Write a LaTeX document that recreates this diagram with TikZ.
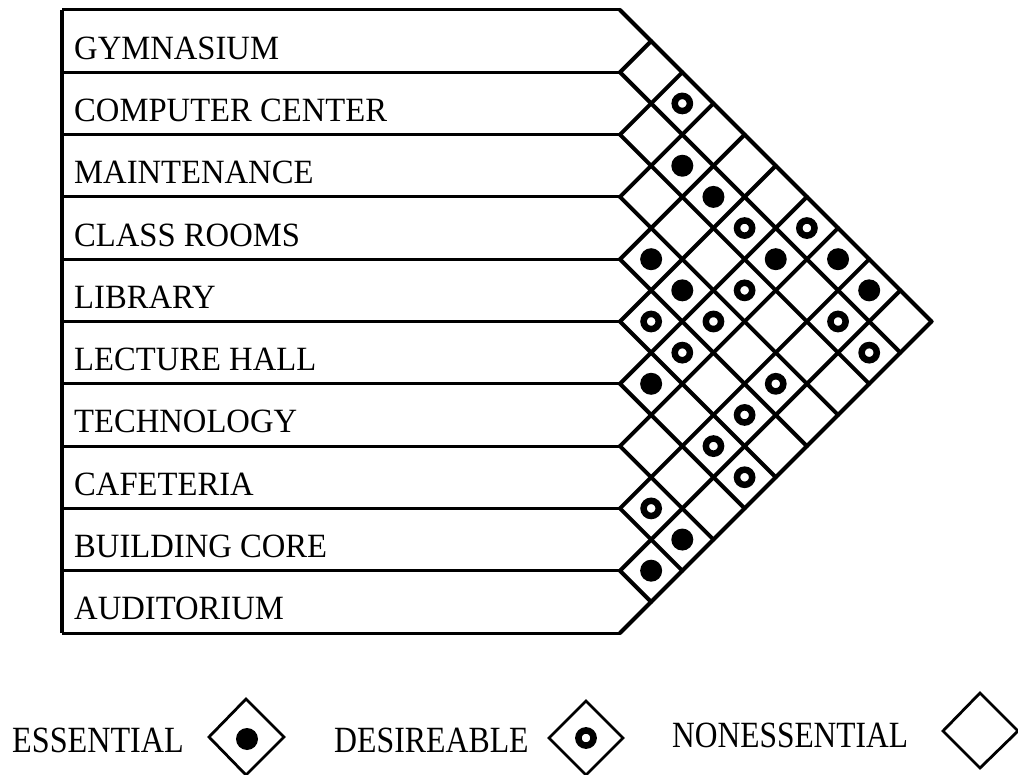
\documentclass[tikz,border=0pt]{standalone}
\usepackage{fontspec}
\setmainfont{Liberation Serif}
\usepackage{graphicx}
\begin{document}
\begin{tikzpicture}[x=1pt,y=-1pt,
  grid/.style={line width=4pt, line cap=round},
  rowline/.style={line width=3pt},
  lbl/.style={anchor=base west, inner sep=0pt, font=\fontsize{34}{40}\selectfont},
  leg/.style={anchor=base west, inner sep=0pt, font=\fontsize{37}{42}\selectfont},
  legdia/.style={line width=2.8pt, line join=miter},
  essmark/.style={fill=black},
  desmark/.style={draw=black, line width=6.5pt}]
\useasboundingbox (0,0) rectangle (1018,775);
\def\Xo{620}
\def\H{62.3}
\def\T{10}
% row boundaries and left edge
\foreach \k in {0,...,10} \draw[rowline] (62,{\T+\k*\H}) -- (\Xo,{\T+\k*\H});
\draw[rowline, line width=3.3pt] (62,\T) -- (62,{\T+10*\H});
% diagonal grid
\foreach \k in {0,...,9} \draw[grid] (\Xo,{\T+\k*\H}) -- ++({(10-\k)*\H/2},{(10-\k)*\H/2});
\foreach \k in {1,...,10} \draw[grid] (\Xo,{\T+\k*\H}) -- ++({\k*\H/2},{-\k*\H/2});
% labels
\foreach \n [count=\c from 0] in {GYMNASIUM,COMPUTER CENTER,MAINTENANCE,CLASS ROOMS,LIBRARY,LECTURE HALL,TECHNOLOGY,CAFETERIA,BUILDING CORE,AUDITORIUM}
  \node[lbl] (r\c) at (74,{\T+(\c+0.5)*\H+18}) {\scalebox{0.96}[1]{\n}};
% essential marks
\foreach \i/\j in {1/3,1/4,3/4,1/6,0/7,0/8,3/5,5/6,7/9,8/9}
  \fill[essmark] ({\Xo+(\j-\i)*\H/2},{\T+(\i+\j+1)*\H/2}) circle (11);
% desirable marks
\foreach \i/\j in {0/2,1/5,0/6,2/6,4/5,3/6,1/8,4/6,1/9,3/8,4/8,5/8,5/9,7/8}
  \draw[desmark] ({\Xo+(\j-\i)*\H/2},{\T+(\i+\j+1)*\H/2}) circle (7.6);
% legend
\node[leg] (lgE) at (12,752) {\scalebox{0.87}[1]{ESSENTIAL}};
\draw[legdia] (209,737) -- (246,699) -- (284,737) -- (246,775) -- cycle;
\fill[essmark] (247,739) circle (11);
\node[leg] (lgD) at (334,752) {\scalebox{0.86}[1]{DESIREABLE}};
\draw[legdia] (549,738) -- (586,701) -- (623,738) -- (586,775) -- cycle;
\draw[desmark] (586,738) circle (7.6);
\node[leg] (lgN) at (672,747) {\scalebox{0.85}[1]{NONESSENTIAL}};
\draw[legdia] (943,731) -- (980,693) -- (1018,731) -- (980,768) -- cycle;
\end{tikzpicture}
\end{document}
